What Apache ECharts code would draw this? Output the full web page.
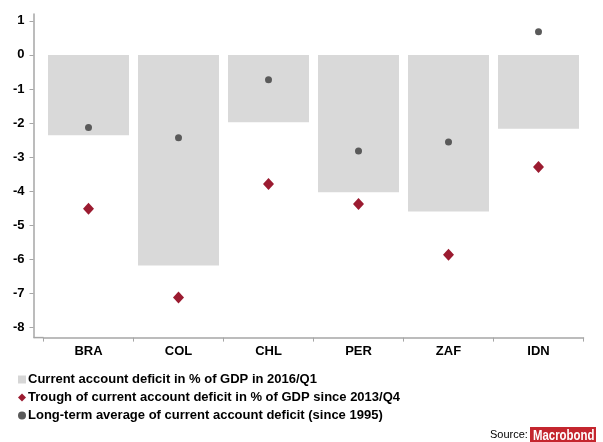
<!DOCTYPE html>
<html>
<head>
<meta charset="utf-8">
<style>
  html, body { margin: 0; padding: 0; background: #ffffff; }
  #chart { width: 603px; height: 442px; }
</style>
<script src="https://cdn.jsdelivr.net/npm/echarts@6/dist/echarts.min.js"></script>
</head>
<body>
<div id="chart"></div>
<script>
// Countries on the category axis
const countries = ['BRA', 'COL', 'CHL', 'PER', 'ZAF', 'IDN'];

// Current account balance, % of GDP, 2016/Q1
const currentDeficit = [-2.36, -6.18, -1.98, -4.03, -4.60, -2.17];

// Trough of the current account balance since 2013/Q4
const troughSince2013 = [-4.52, -7.12, -3.79, -4.38, -5.87, -3.29];

// Long-term average since 1995
const longTermAverage = [-2.13, -2.43, -0.73, -2.82, -2.56, 0.68];

// Y-axis tick values
const yTicks = [1, 0, -1, -2, -3, -4, -5, -6, -7, -8];

const seriesNames = [
  'Current account deficit in % of GDP in 2016/Q1',
  'Trough of current account deficit in % of GDP since 2013/Q4',
  'Long-term average of current account deficit (since 1995)'
];

const chart = echarts.init(document.getElementById('chart'), null, { renderer: 'canvas' });

const axisGray = '#a6a6a6';
const fontFam = 'Arial, "Liberation Sans", Helvetica, sans-serif';
const troughRed = '#9b1b30';

chart.setOption({
  animation: false,
  backgroundColor: '#ffffff',
  grid: { left: 43.5, right: 19.5, top: 14, bottom: 104.4, containLabel: false },
  xAxis: {
    type: 'category',
    data: countries,
    boundaryGap: true,
    axisLine: { show: true, onZero: false, lineStyle: { color: axisGray, width: 1.5 } },
    axisTick: { show: true, length: 4, inside: false, lineStyle: { color: axisGray } },
    axisLabel: { color: '#000', fontWeight: 'bold', fontSize: 13, fontFamily: fontFam, margin: 7 },
    splitLine: { show: false }
  },
  yAxis: {
    type: 'value',
    min: -8.3,
    max: 1.2,
    offset: 10,
    axisLine: { show: true, onZero: false, lineStyle: { color: axisGray, width: 1.5 } },
    axisTick: { show: true, length: 4, lineStyle: { color: axisGray }, customValues: yTicks },
    axisLabel: { color: '#000', fontWeight: 'bold', fontSize: 13, fontFamily: fontFam, margin: 9, customValues: yTicks },
    splitLine: { show: false }
  },
  legend: {
    orient: 'vertical',
    left: 13,
    top: 368,
    itemGap: 5,
    itemWidth: 8,
    itemHeight: 8,
    selectedMode: false,
    textStyle: { color: '#000', fontWeight: 'bold', fontSize: 13, fontFamily: fontFam, padding: [0, 0, 0, -3] },
    data: [
      { name: seriesNames[0], icon: 'rect', itemStyle: { color: '#d6d6d6' } },
      { name: seriesNames[1], icon: 'diamond', itemStyle: { color: troughRed, opacity: 1 } },
      { name: seriesNames[2], icon: 'circle', itemStyle: { color: '#5a5a5a', opacity: 1 } }
    ]
  },
  series: [
    {
      name: seriesNames[0],
      type: 'bar',
      data: currentDeficit,
      barWidth: '90%',
      itemStyle: { color: '#d9d9d9' },
      z: 1
    },
    {
      name: seriesNames[1],
      type: 'scatter',
      data: troughSince2013,
      symbol: 'diamond',
      symbolSize: [11, 12],
      itemStyle: { color: troughRed, opacity: 1 },
      z: 3
    },
    {
      name: seriesNames[2],
      type: 'scatter',
      data: longTermAverage,
      symbol: 'circle',
      symbolSize: 7,
      itemStyle: { color: '#5a5a5a', opacity: 1 },
      z: 3
    }
  ],
  graphic: [
    // extend the x-axis line to meet the offset y-axis
    {
      type: 'line',
      shape: { x1: 33.5, y1: 337.6, x2: 43.5, y2: 337.6 },
      style: { stroke: axisGray, lineWidth: 1.5 }
    },
    {
      type: 'text',
      x: 490,
      y: 429,
      style: { text: 'Source:', fill: '#000', font: '11px ' + fontFam }
    },
    {
      type: 'rect',
      shape: { x: 530, y: 427, width: 66, height: 16 },
      style: { fill: '#c4262e' }
    },
    {
      type: 'text',
      x: 533,
      y: 428,
      scaleX: 0.76,
      style: { text: 'Macrobond', fill: '#ffffff', font: 'bold 15px ' + fontFam }
    }
  ]
});
</script>
</body>
</html>
